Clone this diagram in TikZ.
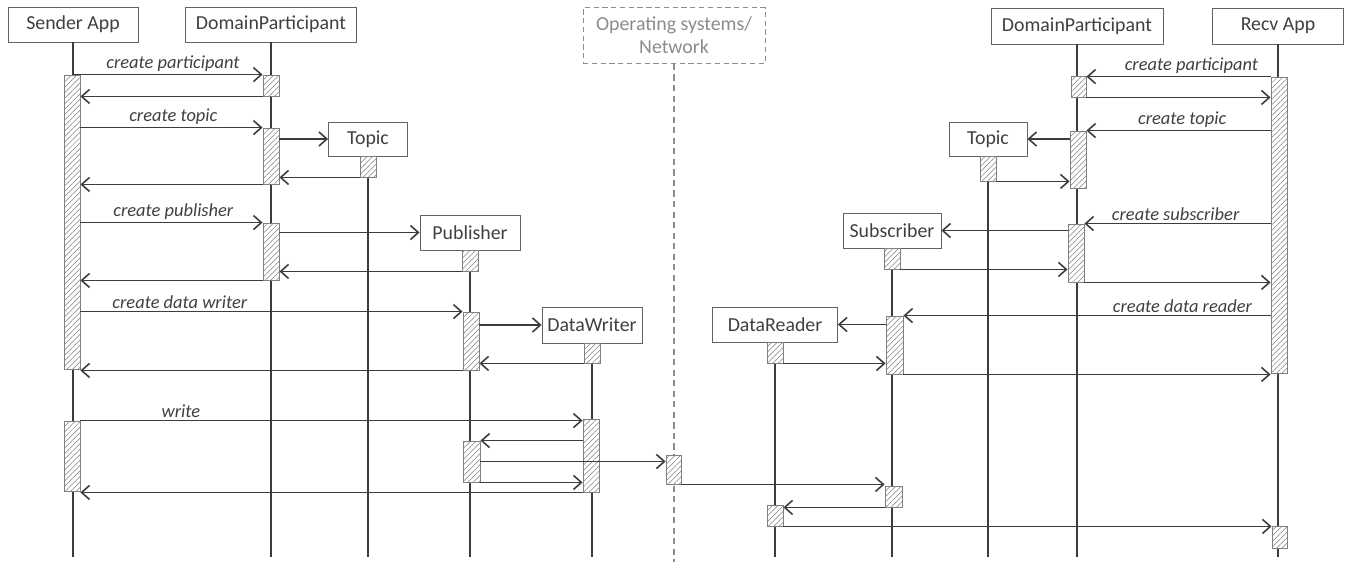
\documentclass[tikz,border=0pt]{standalone}
\usepackage{fontspec}
\setmainfont{Carlito}
\usetikzlibrary{arrows.meta,patterns.meta,fit}
\definecolor{ink}{HTML}{3C3C3C}
\definecolor{txt}{HTML}{404040}
\definecolor{osgray}{HTML}{8C8C8C}

\begin{document}
\begin{tikzpicture}[x=0.02cm,y=-0.02cm,
    lifehead/.style={draw=ink!80,line width=0.5pt,fill=white,text=txt,inner sep=0pt,
      font=\fontsize{11.3}{13}\selectfont},
    oshead/.style={lifehead,draw=osgray,dash pattern=on 3pt off 2pt,text=osgray,align=center},
    lifeline/.style={ink,line width=0.8pt},
    actbar/.style={draw=gray,line width=0.5pt,fill=white,inner sep=0pt,
      postaction={pattern={Lines[angle=45,distance=2.2pt,line width=0.3pt]},pattern color=gray}},
    msgarrow/.style={ink,line width=0.9pt,-{Straight Barb[length=4.5pt,width=8pt]}},
    msglabel/.style={above,inner sep=1.5pt,text=txt,font=\fontsize{10.5}{12}\selectfont\itshape}]

    \useasboundingbox (0,0) rectangle (1352,562);

    % heads
    \node[lifehead,minimum width=2.6cm,minimum height=0.7cm] (sa) at (73,24.5) {Sender App};
    \node[lifehead,minimum width=3.42cm,minimum height=0.7cm] (dpl) at (271,24.5) {DomainParticipant};
    \node[lifehead,minimum width=1.58cm,minimum height=0.68cm] (tpl) at (368,139) {Topic};
    \node[lifehead,minimum width=2cm,minimum height=0.7cm] (pub) at (470,232.5) {Publisher};
    \node[lifehead,minimum width=2cm,minimum height=0.72cm] (dw) at (592,325) {DataWriter};
    \node[oshead,minimum width=3.64cm,minimum height=1.12cm] (os) at (674,35.5) {Operating systems/\\Network};
    \node[lifehead,minimum width=2.5cm,minimum height=0.7cm] (dr) at (775,324.5) {DataReader};
    \node[lifehead,minimum width=1.96cm,minimum height=0.7cm] (sub) at (892,230.5) {Subscriber};
    \node[lifehead,minimum width=1.56cm,minimum height=0.68cm] (tpr) at (988,139) {Topic};
    \node[lifehead,minimum width=3.44cm,minimum height=0.72cm] (dpr) at (1077,26) {DomainParticipant};
    \node[lifehead,minimum width=2.62cm,minimum height=0.72cm] (ra) at (1278,26) {Recv App};

    % lifelines
    \foreach \h in {sa,dpl,tpl,pub,dw,dr,sub,tpr,dpr,ra}
        \draw[lifeline] (\h.south) -- (\h.south |- 0,557);
    \draw[lifeline,osgray,dash pattern=on 3.5pt off 2.5pt] (os.south) -- (os.south |- 0,562);

    % activation bars
    \node[actbar,fit={(64,75) (80,369)}] (sa1) {};
    \node[actbar,fit={(64,421) (80,491)}] (sa2) {};
    \node[actbar,fit={(263,75) (279,96)}] (dpl1) {};
    \node[actbar,fit={(263,128) (279,184)}] (dpl2) {};
    \node[actbar,fit={(263,223) (279,280)}] (dpl3) {};
    \node[actbar,fit={(360,156) (376,177)}] (tpl1) {};
    \node[actbar,fit={(462,250) (478,271)}] (pub1) {};
    \node[actbar,fit={(463,312) (479,370)}] (pub2) {};
    \node[actbar,fit={(463,441) (480,482)}] (pub3) {};
    \node[actbar,fit={(584,343) (600,363)}] (dw1) {};
    \node[actbar,fit={(583,419) (599,492)}] (dw2) {};
    \node[actbar,fit={(666,455) (681,484)}] (os1) {};
    \node[actbar,fit={(767,342) (783,363)}] (dr1) {};
    \node[actbar,fit={(767,505) (783,526)}] (dr2) {};
    \node[actbar,fit={(884,248) (900,269)}] (sub1) {};
    \node[actbar,fit={(886,316) (903,374)}] (sub2) {};
    \node[actbar,fit={(885,486) (902,507)}] (sub3) {};
    \node[actbar,fit={(980,156) (996,181)}] (tpr1) {};
    \node[actbar,fit={(1071,76) (1086,97)}] (dpr1) {};
    \node[actbar,fit={(1070,131) (1086,188)}] (dpr2) {};
    \node[actbar,fit={(1068,224) (1084,282)}] (dpr3) {};
    \node[actbar,fit={(1271,77) (1287,373)}] (ra1) {};
    \node[actbar,fit={(1272,526) (1287,548)}] (ra2) {};

    % calls with a label
    \draw[msgarrow] (sa1.north) -- node[msglabel,pos=0.53] {create participant} (dpl1.west |- sa1.north);
    \draw[msgarrow] (sa1.east |- dpl2.north west) -- node[msglabel,pos=0.51] {create topic} (dpl2.north west);
    \draw[msgarrow] (sa1.east |- dpl3.north west) -- node[msglabel,pos=0.51] {create publisher} (dpl3.north west);
    \draw[msgarrow] (sa1.east |- pub2.north west) -- node[msglabel,pos=0.26] {create data writer} (pub2.north west);
    \draw[msgarrow] (sa2.north east) -- node[msglabel,pos=0.2] {write} (dw2.west |- sa2.north east);
    \draw[msgarrow] (ra1.north west) -- node[msglabel,pos=0.43] {create participant} (dpr1.east |- ra1.north west);
    \draw[msgarrow] (ra1.west |- dpr2.north east) -- node[msglabel,pos=0.48] {create topic} (dpr2.north east);
    \draw[msgarrow] (ra1.west |- dpr3.north east) -- node[msglabel,pos=0.51] {create subscriber} (dpr3.north east);
    \draw[msgarrow] (ra1.west |- sub2.north east) -- node[msglabel,pos=0.24] {create data reader} (sub2.north east);

    % plain messages, from an anchor
    \foreach \a/\b in {dpl1.south west/sa1.east, tpl1.south west/dpl2.east, dpl2.south west/sa1.east,
                       pub1.south west/dpl3.east, dpl3.south west/sa1.east, dw1.south west/pub2.east,
                       pub2.south west/sa1.east, pub3.south east/dw2.west, dw2.south west/sa2.east,
                       pub3.east/os1.west, os1.south east/sub3.west, sub3.south west/dr2.east,
                       dr2.south east/ra2.west, dpr1.south east/ra1.west, tpr1.south east/dpr2.west,
                       sub1.south east/dpr3.west, dpr3.south east/ra1.west, dr1.south east/sub2.west,
                       sub2.south east/ra1.west}
        \draw[msgarrow] (\a) -- (\b |- \a);

    % plain messages, to an anchor
    \foreach \a/\b in {dpl2.east/tpl.west, dpl3.east/pub.west, pub2.east/dw.west,
                       dw2.west/pub3.north east, dpr2.west/tpr.east, dpr3.west/sub.east,
                       sub2.west/dr.east}
        \draw[msgarrow] (\a |- \b) -- (\b);

\end{tikzpicture}
\end{document}
